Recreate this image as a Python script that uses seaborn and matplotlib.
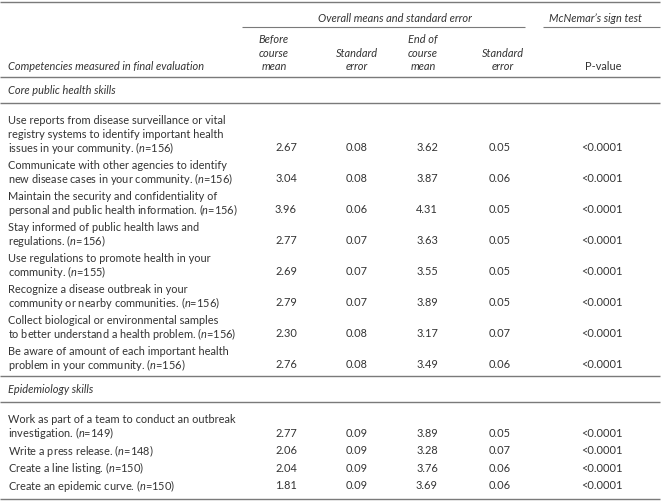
# table of competency scores before / after the course
import matplotlib
matplotlib.use("Agg")
import matplotlib.pyplot as plt
import seaborn as sns

sections = ["Core public health skills", "Epidemiology skills"]
section_of_row = [0, 0, 0, 0, 0, 0, 0, 0, 1, 1, 1, 1]
labels = [
    "Use reports from disease surveillance or vital\nregistry systems to identify important health\nissues in your community.",
    "Communicate with other agencies to identify\nnew disease cases in your community.",
    "Maintain the security and confidentiality of\npersonal and public health information.",
    "Stay informed of public health laws and\nregulations.",
    "Use regulations to promote health in your\ncommunity.",
    "Recognize a disease outbreak in your\ncommunity or nearby communities.",
    "Collect biological or environmental samples\nto better understand a health problem.",
    "Be aware of amount of each important health\nproblem in your community.",
    "Work as part of a team to conduct an outbreak\ninvestigation.",
    "Write a press release.",
    "Create a line listing.",
    "Create an epidemic curve.",
]
n_values = [156, 156, 156, 156, 155, 156, 156, 156, 149, 148, 150, 150]
before_mean = ["2.67", "3.04", "3.96", "2.77", "2.69", "2.79", "2.30", "2.76", "2.77", "2.06", "2.04", "1.81"]
before_se = ["0.08", "0.08", "0.06", "0.07", "0.07", "0.07", "0.08", "0.08", "0.09", "0.09", "0.09", "0.09"]
end_mean = ["3.62", "3.87", "4.31", "3.63", "3.55", "3.89", "3.17", "3.49", "3.89", "3.28", "3.76", "3.69"]
end_se = ["0.05", "0.06", "0.05", "0.05", "0.05", "0.05", "0.07", "0.06", "0.05", "0.07", "0.06", "0.06"]
p_values = ["<0.0001"] * 12

col_heads = ["Before\ncourse\nmean", "Standard\nerror", "End of\ncourse\nmean", "Standard\nerror"]

sns.set_theme(style="white")
plt.rcParams["font.family"] = ["Lato", "DejaVu Sans"]
plt.rcParams["mathtext.fontset"] = "custom"
plt.rcParams["mathtext.rm"] = "Lato"
plt.rcParams["mathtext.it"] = "Lato:italic"

TXT = "#333333"
LINE = "#7a7a7a"
FS = 7.9
LH = 13.5     # line height inside a cell
GAP = 17.5    # step from last line of a row to first line of next

fig = plt.figure(figsize=(6.69, 5.02), dpi=100)
ax = fig.add_axes([0, 0, 1, 1])
ax.set_xlim(0, 669)
ax.set_ylim(502, 0)
ax.axis("off")

x_label = 8
x_cols = [286, 357, 427, 500, 602]
x_heads = [274, 357, 423, 503, 603]


def hline(y, x0=0, x1=660, lw=1.0):
    ax.plot([x0, x1], [y, y], color=LINE, lw=lw, solid_capstyle="butt")


def cell_lines(x, y_last, text, ha="center", style="normal"):
    parts = text.split("\n")
    for i, p in enumerate(parts):
        y = y_last - (len(parts) - 1 - i) * LH
        ax.text(x, y, p, ha=ha, va="center", fontsize=FS, color=TXT, style=style)


# header
hline(3)
ax.text(395, 18, "Overall means and standard error", ha="center", va="center",
        fontsize=FS, color=TXT, style="italic")
ax.text(595, 18, "McNemar\u2019s sign test", ha="center", va="center",
        fontsize=FS, color=TXT, style="italic")
hline(28, 242, 525, lw=0.8)
hline(28, 543, 660, lw=0.8)
ax.text(x_label, 67, "Competencies measured in final evaluation", ha="left", va="center",
        fontsize=FS, color=TXT, style="italic")
for xh, h in zip(x_heads, col_heads):
    cell_lines(xh, 67, h, style="italic")
ax.text(x_heads[4], 67, "P-value", ha="center", va="center", fontsize=FS, color=TXT)
hline(78)

# body
y = 78
current = -1
for i, lab in enumerate(labels):
    if section_of_row[i] != current:
        current = section_of_row[i]
        if current > 0:
            y = y + 12
            hline(y)
        ax.text(x_label, y + 13, sections[current], ha="left", va="center",
                fontsize=FS, color=TXT, style="italic")
        hline(y + 26)
        y = y + 26 + 17
    else:
        y = y + GAP
    lines = lab.split("\n")
    lines[-1] = lines[-1] + " ($\\mathit{n}$=" + str(n_values[i]) + ")"
    y_last = y + (len(lines) - 1) * LH
    cell_lines(x_label, y_last, "\n".join(lines), ha="left")
    vals = [before_mean[i], before_se[i], end_mean[i], end_se[i], p_values[i]]
    for xc, v in zip(x_cols, vals):
        ax.text(xc, y_last, v, ha="center", va="center", fontsize=FS, color=TXT)
    y = y_last

hline(y + 14)

fig.savefig("out.png", dpi=100, facecolor="white")
